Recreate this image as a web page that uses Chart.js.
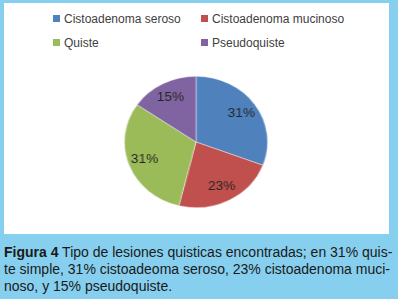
<!DOCTYPE html>
<html>
<head>
<meta charset="utf-8">
<script src="https://cdn.jsdelivr.net/npm/chart.js@4/dist/chart.umd.min.js"></script>
<style>
  html, body { margin: 0; padding: 0; }
  body { width: 398px; height: 299px; background: #87cfee; position: relative; overflow: hidden; font-family: "Liberation Sans", Arial, sans-serif; }
  #panel { position: absolute; left: 4px; top: 3px; width: 385px; height: 231px; background: #ffffff; }
  #legend { position: absolute; left: 0; top: 0; width: 385px; height: 60px; }
  .li { position: absolute; font-size: 12px; color: #404040; white-space: nowrap; line-height: 15px; }
  .li span.box { display: inline-block; width: 7px; height: 7px; margin-right: 4px; vertical-align: 1px; }
  #wrap { position: absolute; left: 130px; top: 76px; width: 132px; height: 132px; transform: scaleX(1.09); transform-origin: center center; }
  #caption { position: absolute; left: 4px; top: 244px; width: 386px; font-family: "Liberation Sans", Arial, sans-serif; font-size: 14px; line-height: 17px; color: #1a1a1a; }
  #caption div { text-align: justify; text-align-last: justify; white-space: nowrap; }
  #caption div.last { text-align-last: left; }
</style>
</head>
<body>
<div id="panel">
  <div id="legend"></div>
</div>
<div id="wrap"><canvas id="c" width="132" height="132"></canvas></div>
<div id="caption">
  <div><b>Figura 4</b> Tipo de lesiones quisticas encontradas; en 31% quis-</div>
  <div>te simple, 31% cistoadeoma seroso, 23% cistoadenoma muci-</div>
  <div class="last">noso, y 15% pseudoquiste.</div>
</div>
<script>
const categories = ["Cistoadenoma seroso", "Cistoadenoma mucinoso", "Quiste", "Pseudoquiste"];
const counts = [4, 3, 4, 2];
const colors = ["#4f81bd", "#c0504d", "#9bbb59", "#8064a2"];

const pctLabels = {
  id: "pctLabels",
  afterDatasetsDraw(chart) {
    const ctx = chart.ctx;
    const ds = chart.data.datasets[0];
    const total = ds.data.reduce((a, b) => a + b, 0);
    const meta = chart.getDatasetMeta(0);
    ctx.save();
    ctx.font = "12.5px 'Liberation Sans', Arial, sans-serif";
    ctx.fillStyle = "#262626";
    ctx.textAlign = "center";
    ctx.textBaseline = "middle";
    meta.data.forEach((arc, i) => {
      const p = arc.getProps(["x", "y", "startAngle", "endAngle", "outerRadius"], true);
      const mid = (p.startAngle + p.endAngle) / 2;
      const r = p.outerRadius * 0.77;
      const txt = Math.round(ds.data[i] / total * 100) + "%";
      ctx.fillText(txt, p.x + Math.cos(mid) * r, p.y + Math.sin(mid) * r);
    });
    ctx.restore();
  }
};

const chart = new Chart(document.getElementById("c"), {
  type: "pie",
  data: {
    labels: categories,
    datasets: [{ data: counts, backgroundColor: colors, borderColor: "rgba(255,255,255,0.6)", borderWidth: 0.7 }]
  },
  options: {
    responsive: false,
    animation: false,
    layout: { padding: 0 },
    plugins: { legend: { display: false }, tooltip: { enabled: false } }
  },
  plugins: [pctLabels]
});

// HTML legend built from the chart's own legend items
const legend = document.getElementById("legend");
const items = chart.options.plugins.legend.labels.generateLabels(chart);
const pos = [[49, 9], [197, 9], [49, 33], [197, 33]];
items.forEach((it, i) => {
  const d = document.createElement("div");
  d.className = "li";
  d.style.left = pos[i][0] + "px";
  d.style.top = pos[i][1] + "px";
  const b = document.createElement("span");
  b.className = "box";
  b.style.background = it.fillStyle;
  d.appendChild(b);
  d.appendChild(document.createTextNode(it.text));
  legend.appendChild(d);
});
</script>
</body>
</html>
